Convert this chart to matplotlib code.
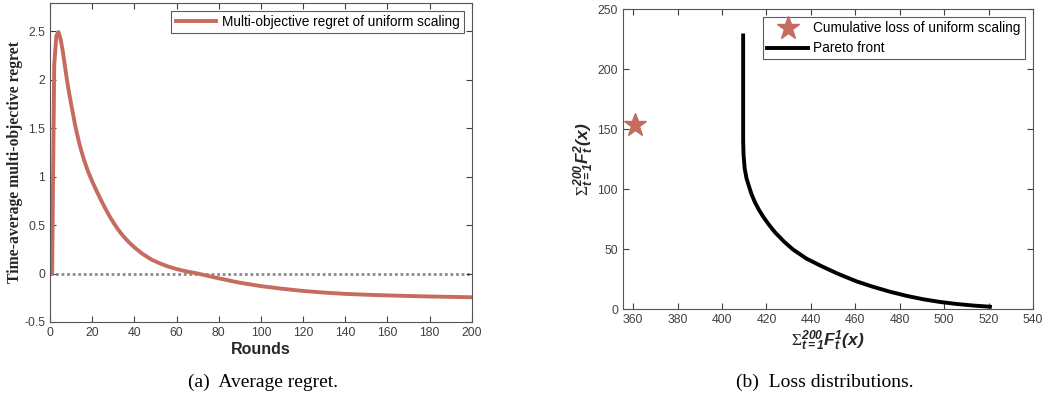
import numpy as np
import matplotlib
matplotlib.use("Agg")
import matplotlib.pyplot as plt

plt.rcParams['font.family'] = ['Liberation Sans', 'DejaVu Sans']
plt.rcParams['mathtext.fontset'] = 'custom'
plt.rcParams['mathtext.it'] = 'Liberation Sans:italic:bold'
plt.rcParams['mathtext.sf'] = 'Liberation Sans:italic:bold'
plt.rcParams['mathtext.rm'] = 'Liberation Serif'
plt.rcParams['mathtext.bf'] = 'Liberation Sans:bold'

# (a) time-average multi-objective regret
rounds = [1, 2, 3, 4, 5, 6, 7, 8, 9, 10, 12, 14, 16, 18, 20, 22, 24, 26,
          28, 30, 32, 34, 36, 38, 40, 44, 48, 52, 56, 60, 65, 70, 75, 80,
          90, 100, 110, 120, 130, 140, 150, 160, 170, 180, 190, 200]
regret = [0.0, 2.15, 2.45, 2.49, 2.42, 2.3, 2.15, 2.0, 1.87, 1.75, 1.52,
          1.33, 1.18, 1.055, 0.95, 0.855, 0.765, 0.68, 0.6, 0.528, 0.462,
          0.405, 0.355, 0.31, 0.27, 0.2, 0.145, 0.105, 0.072, 0.046, 0.02,
          0.0, -0.025, -0.05, -0.095, -0.13, -0.157, -0.18, -0.197, -0.21,
          -0.219, -0.226, -0.232, -0.237, -0.241, -0.245]

# (b) Pareto front and cumulative loss of uniform scaling
front_f1 = [409.5, 409.5, 409.7, 410.2, 411, 412, 413.2, 414.8, 416.5,
            418.5, 421, 423.8, 428, 432, 438, 445, 452, 460.6, 468, 475.6,
            483, 490.6, 498, 505.6, 513, 520.6]
front_f2 = [228, 140, 128, 117, 109, 103, 96, 89, 83, 77, 70.5, 64, 56,
            49.5, 42, 35.5, 29.5, 23, 18.5, 14.4, 11, 8.1, 5.9, 4.2, 2.9,
            1.9]
uniform_f1 = [361]
uniform_f2 = [153]

red = '#C66B5F'
axcol = '#262626'
tickcol = '#404040'

fig = plt.figure(figsize=(10.44, 3.98), dpi=100)


def style(ax):
    for s in ax.spines.values():
        s.set_color('#555555')
        s.set_linewidth(0.8)
    ax.tick_params(direction='in', top=True, right=True, labelsize=8.8,
                   colors=tickcol, length=4, width=0.8)


ax1 = fig.add_axes([0.0479, 0.191, 0.404, 0.8015])
ax1.plot(rounds, regret, color=red, lw=2.8, solid_joinstyle='round',
         label='Multi-objective regret of uniform scaling')
ax1.axhline(0, color='#8c8c8c', lw=2, ls=(0, (1, 1)), zorder=1)
ax1.set_xlim(0, 200)
ax1.set_ylim(-0.5, 2.79)
ax1.set_xticks(np.arange(0, 201, 20))
ax1.set_yticks([-0.5, 0, 0.5, 1, 1.5, 2, 2.5])
ax1.set_yticklabels(['-0.5', '0', '0.5', '1', '1.5', '2', '2.5'])
style(ax1)
ax1.set_xlabel('Rounds', fontsize=11.5, fontweight='bold', color=axcol,
               labelpad=2)
ax1.set_ylabel('Time-average multi-objective regret', fontsize=11.3,
               fontweight='bold', family='Liberation Serif', color=axcol,
               labelpad=1)
leg1 = ax1.legend(loc='upper right', fontsize=9.8, frameon=True,
                  fancybox=False, edgecolor='#333333', handlelength=3.0,
                  borderpad=0.3, borderaxespad=0.6, handletextpad=0.4)
leg1.get_frame().set_linewidth(0.8)

ax2 = fig.add_axes([0.5965, 0.2236, 0.393, 0.7537])
ax2.plot(uniform_f1, uniform_f2, ls='none', marker='*', ms=17, color=red,
         label='Cumulative loss of uniform scaling')
ax2.plot(front_f1, front_f2, color='black', lw=2.8, solid_joinstyle='round',
         label='Pareto front')
ax2.set_xlim(355.3, 540)
ax2.set_ylim(0, 250)
ax2.set_xticks(np.arange(360, 541, 20))
ax2.set_yticks(np.arange(0, 251, 50))
style(ax2)
ax2.set_xlabel(r'$\Sigma_{\mathsf{t=1}}^{\mathsf{200}}'
               r'\mathsf{F}_{\mathsf{t}}^{\mathsf{1}}\mathsf{(x)}$',
               fontsize=12.5, color=axcol, labelpad=2)
ax2.set_ylabel(r'$\Sigma_{\mathsf{t=1}}^{\mathsf{200}}'
               r'\mathsf{F}_{\mathsf{t}}^{\mathsf{2}}\mathsf{(x)}$',
               fontsize=12.5, color=axcol, labelpad=1)
leg2 = ax2.legend(loc='upper right', fontsize=9.8, frameon=True,
                  fancybox=False, edgecolor='#333333', handlelength=3.0,
                  borderpad=0.3, borderaxespad=0.6, handletextpad=0.4,
                  labelspacing=0.45)
leg2.get_frame().set_linewidth(0.8)

fig.text(0.252, 0.04, '(a)  Average regret.', ha='center', va='center',
         family='Liberation Serif', fontsize=14)
fig.text(0.79, 0.04, '(b)  Loss distributions.', ha='center', va='center',
         family='Liberation Serif', fontsize=14)

fig.savefig('out.png', dpi=100)
